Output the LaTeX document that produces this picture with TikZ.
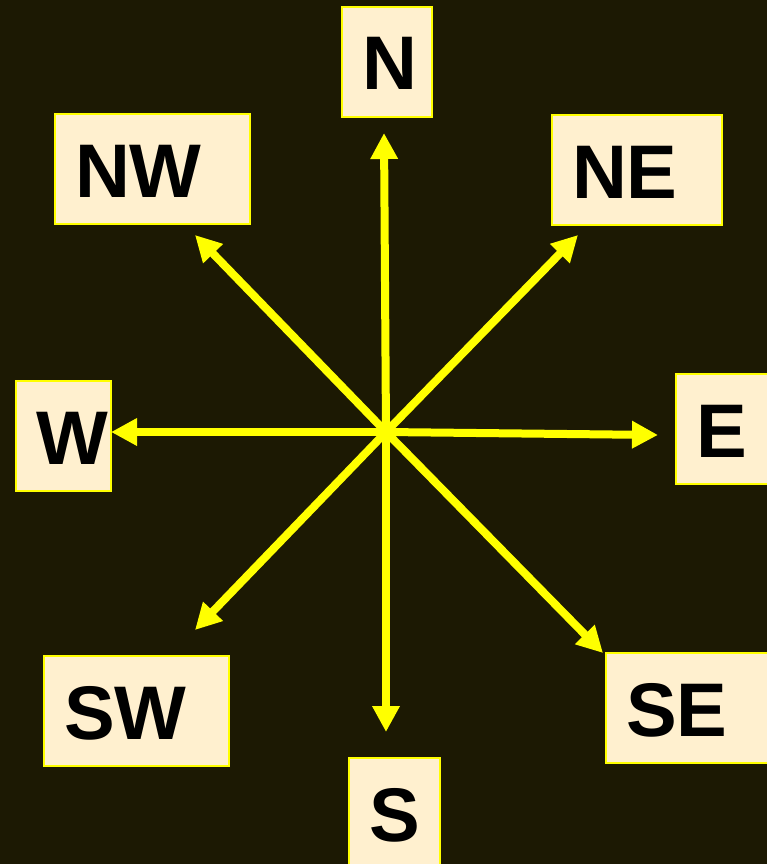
\documentclass[tikz,border=0pt]{standalone}
\usepackage{fontspec}
\setmainfont{Liberation Sans}
\usetikzlibrary{arrows.meta}
\definecolor{bg}{RGB}{28,25,3}
\definecolor{cream}{RGB}{255,240,207}
\definecolor{yel}{RGB}{255,255,0}
\begin{document}
\begin{tikzpicture}[x=1pt,y=-1pt,
 box/.style={draw=yel, fill=cream, line width=2pt, anchor=north west, inner xsep=20pt, inner ysep=0pt,
   minimum height=110pt, text height=56pt, text depth=0pt, align=left,
   font=\fontsize{76}{80}\selectfont\bfseries},
 ray/.style={draw=yel, line width=8pt, -{Triangle[length=26pt,width=26pt]}}]
\fill[bg] (0,0) rectangle (767,864);
\useasboundingbox (0,0) rectangle (767,864);
\clip (0,0) rectangle (767,864);
\node[box, text width=50pt] (n) at (341,6) {N};
\node[box, text width=155pt] (nw) at (54,113) {NW};
\node[box, text width=130pt] (ne) at (551,114) {NE};
\node[box, text width=55pt] (w) at (15,380) {W};
\node[box, text width=55pt] (e) at (675,373) {E};
\node[box, text width=145pt] (sw) at (43,655) {SW};
\node[box, text width=140pt] (se) at (605,652) {SE};
\node[box, text width=51pt] (s) at (348,757) {S};
\coordinate (c) at (386,432);
\coordinate (tn) at (384,133);
\coordinate (tnw) at (195,235);
\coordinate (tne) at (578,235);
\coordinate (tw) at (111,432);
\coordinate (te) at (658,435);
\coordinate (tsw) at (195,630);
\coordinate (tse) at (603,653);
\coordinate (ts) at (386,732);
\foreach \t in {tn,tnw,tne,tw,te,tsw,tse,ts} \draw[ray] (c) -- (\t);
\end{tikzpicture}
\end{document}
